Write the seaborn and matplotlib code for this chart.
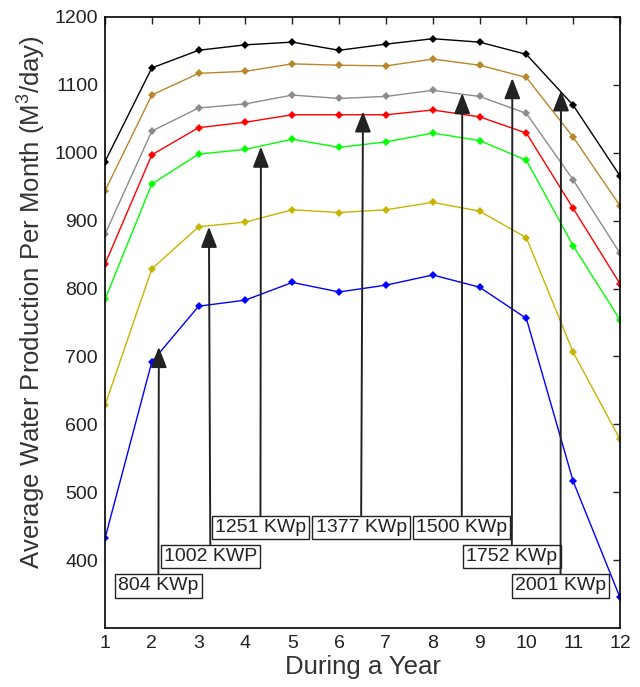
import matplotlib
matplotlib.use("Agg")
import matplotlib.pyplot as plt
import seaborn as sns
import pandas as pd

# ---------------- data ----------------
months = [1, 2, 3, 4, 5, 6, 7, 8, 9, 10, 11, 12]

kwp_804 = [432, 692, 774, 783, 809, 795, 805, 820, 802, 756, 516, 345]
kwp_1002 = [628, 829, 891, 898, 916, 912, 916, 927, 914, 875, 706, 578]
kwp_1251 = [784, 954, 998, 1005, 1020, 1008, 1016, 1029, 1018, 989, 863, 754]
kwp_1377 = [836, 997, 1037, 1045, 1056, 1056, 1056, 1063, 1053, 1029, 918, 807]
kwp_1500 = [880, 1032, 1066, 1072, 1085, 1080, 1083, 1092, 1083, 1058, 960, 852]
kwp_1752 = [944, 1085, 1117, 1120, 1131, 1129, 1128, 1138, 1129, 1111, 1023, 922]
kwp_2001 = [987, 1125, 1151, 1159, 1163, 1151, 1160, 1168, 1163, 1145, 1070, 966]

series_labels = ["804 KWp", "1002 KWP", "1251 KWp", "1377 KWp",
                 "1500 KWp", "1752 KWp", "2001 KWp"]
series_values = [kwp_804, kwp_1002, kwp_1251, kwp_1377, kwp_1500, kwp_1752, kwp_2001]

y_ticks = [400, 500, 600, 700, 800, 900, 1000, 1100, 1200]
x_label = "During a Year"
y_label = "Average Water Production Per Month (M$^3$/day)"

# ---------------- style ----------------
colors = ["#0000FF", "#C8B400", "#00FF00", "#FF0000",
          "#8C8C8C", "#B8862B", "#000000"]

# annotation layout: (arrow tip x, arrow tip y, box centre x, box centre y)
ann_layout = [
    (2.15, 714, 2.14, 362),
    (3.22, 891, 3.25, 405.5),
    (4.33, 1009, 4.32, 448),
    (6.51, 1061, 6.47, 448),
    (8.63, 1088, 8.62, 448),
    (9.70, 1110, 9.69, 405.5),
    (10.74, 1092, 10.73, 362),
]

sns.set_style("white")
plt.rcParams["font.family"] = ["Liberation Sans", "DejaVu Sans"]
plt.rcParams["mathtext.fontset"] = "custom"
plt.rcParams["mathtext.rm"] = "Liberation Sans"

fig = plt.figure(figsize=(6.40, 6.87), dpi=100)
ax = fig.add_axes([105 / 640, 1 - 628 / 687, 515 / 640, 611 / 687])

frames = []
for lab, vals in zip(series_labels, series_values):
    frames.append(pd.DataFrame({"month": months, "value": vals, "series": lab}))
df = pd.concat(frames, ignore_index=True)

for lab, col in zip(series_labels, colors):
    sub = df[df["series"] == lab]
    sns.lineplot(data=sub, x="month", y="value", ax=ax, color=col,
                 marker="D", markersize=4.5, markeredgewidth=0,
                 linewidth=1.0, legend=False)

for lab, (tx, ty, bx, by) in zip(series_labels, ann_layout):
    ax.annotate(lab, xy=(tx, ty), xytext=(bx, by),
                xycoords="data", textcoords="data",
                ha="center", va="center", fontsize=14, color="#222222",
                bbox=dict(boxstyle="square,pad=0.16", fc="white", ec="#222222", lw=1.0),
                arrowprops=dict(arrowstyle="-|>,head_length=0.9,head_width=0.35",
                                color="#222222", lw=1.4, shrinkA=0, shrinkB=0,
                                mutation_scale=14),
                zorder=5)

ax.set_xlim(1, 12)
ax.set_ylim(300, 1200)
ax.set_xticks(months)
ax.set_yticks(y_ticks)
ax.set_xlabel(x_label, fontsize=18.5, color="#333333", labelpad=2)
ax.set_ylabel(y_label, fontsize=18.5, color="#333333")
ax.yaxis.set_label_coords(-0.112, 0.534)
ax.tick_params(axis="both", direction="in", length=5, width=1, labelsize=14,
               colors="#222222", top=True, right=True, pad=5)
for s in ax.spines.values():
    s.set_color("black")
    s.set_linewidth(1.2)
ax.grid(False)

fig.savefig("out.png", dpi=100, facecolor="white")
